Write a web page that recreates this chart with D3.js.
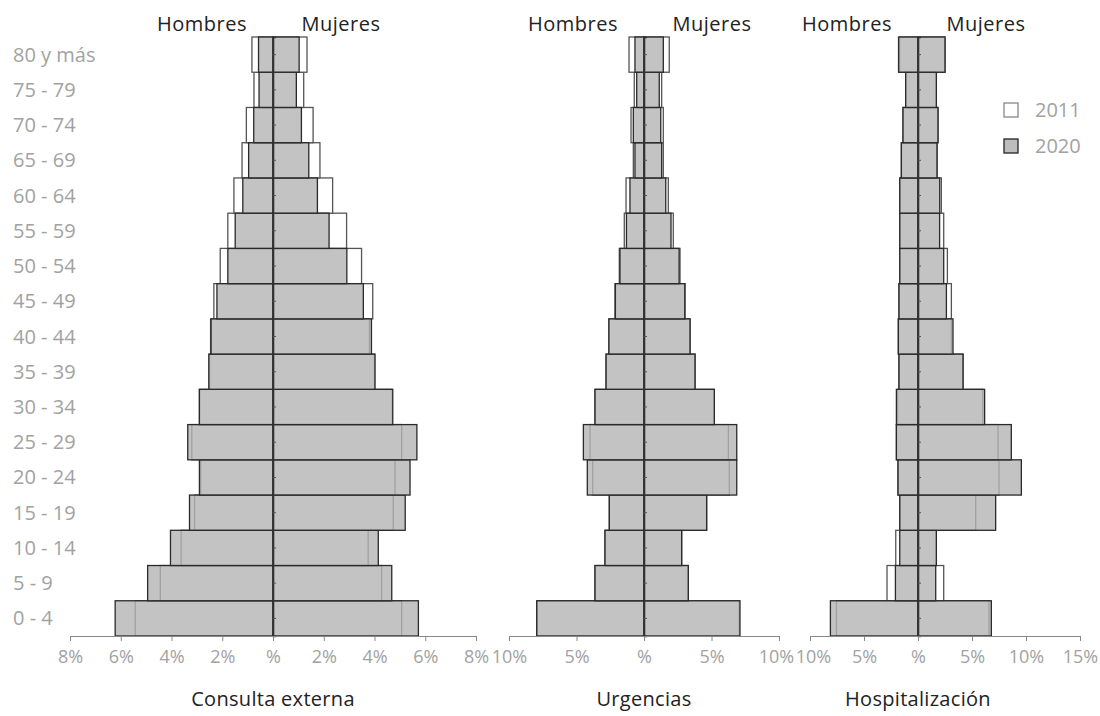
<!DOCTYPE html>
<html>
<head>
<meta charset="utf-8">
<script src="https://cdn.jsdelivr.net/npm/d3@7"></script>
<style>
  body { margin: 0; background: #fff; }
  text { font-family: "Open Sans", "Noto Sans", sans-serif; }
</style>
</head>
<body>
<svg id="chart"></svg>
<script>
var svg = d3.select('#chart').attr('width', 1100).attr('height', 716)

// grupos de edad, de abajo hacia arriba
var ages = ['0 - 4','5 - 9','10 - 14','15 - 19','20 - 24','25 - 29','30 - 34','35 - 39',
            '40 - 44','45 - 49','50 - 54','55 - 59','60 - 64','65 - 69','70 - 74','75 - 79','80 y más']
var years = ['2011', '2020']

// Consulta externa (%)
var consultaH2011 = [5.43,4.44,3.62,3.09,2.85,3.20,2.90,2.50,2.46,2.33,2.08,1.78,1.54,1.22,1.05,0.75,0.83]
var consultaH2020 = [6.22,4.94,4.04,3.29,2.90,3.36,2.90,2.53,2.44,2.21,1.78,1.49,1.19,0.96,0.76,0.55,0.57]
var consultaM2011 = [5.07,4.28,3.75,4.74,4.81,5.07,4.70,4.00,3.80,3.93,3.49,2.90,2.35,1.85,1.58,1.21,1.34]
var consultaM2020 = [5.73,4.68,4.15,5.21,5.40,5.67,4.72,4.02,3.88,3.56,2.91,2.21,1.75,1.41,1.12,0.92,1.03]

// Urgencias (%)
var urgH2011 = [7.90,3.63,2.89,2.57,3.80,4.00,3.63,2.81,2.60,2.15,1.83,1.46,1.33,0.79,0.96,0.72,1.11]
var urgH2020 = [7.95,3.63,2.89,2.57,4.20,4.49,3.63,2.81,2.60,2.12,1.78,1.30,1.04,0.67,0.79,0.54,0.67]
var urgM2011 = [7.05,3.28,2.79,4.64,6.32,6.25,5.21,3.78,3.41,3.04,2.67,2.17,1.80,1.43,1.43,1.31,1.87]
var urgM2020 = [7.11,3.28,2.79,4.64,6.87,6.87,5.21,3.78,3.41,3.02,2.60,2.00,1.61,1.31,1.24,1.13,1.43]

// Hospitalización (%)
var hospH2011 = [7.55,2.87,2.06,1.69,1.85,2.00,1.90,1.76,1.82,1.76,1.69,1.69,1.69,1.54,1.39,1.14,1.70]
var hospH2020 = [8.11,2.09,1.69,1.69,1.85,2.00,2.00,1.76,1.82,1.76,1.69,1.69,1.69,1.54,1.39,1.14,1.80]
var hospM2011 = [6.57,2.38,1.70,5.34,7.50,7.41,6.00,4.17,3.09,3.09,2.72,2.38,2.16,1.76,1.85,1.70,2.50]
var hospM2020 = [6.79,1.64,1.70,7.19,9.57,8.64,6.17,4.17,3.24,2.63,2.38,2.00,2.01,1.76,1.85,1.70,2.50]

var panels = [
  {title: 'Consulta externa', domain: [-8, 8], range: [70, 476], ticks: [-8,-6,-4,-2,0,2,4,6,8],
   h: [consultaH2011, consultaH2020], m: [consultaM2011, consultaM2020]},
  {title: 'Urgencias', domain: [-10, 10], range: [509, 779], ticks: [-10,-5,0,5,10],
   h: [urgH2011, urgH2020], m: [urgM2011, urgM2020]},
  {title: 'Hospitalización', domain: [-10, 15], range: [810, 1080], ticks: [-10,-5,0,5,10,15],
   h: [hospH2011, hospH2020], m: [hospM2011, hospM2020]}
]

var y = d3.scaleBand().domain(ages.slice().reverse()).range([37, 636]).padding(0)
var fmt = d => d === 0 ? '%' : Math.abs(d) + '%'

// etiquetas de edad
svg.append('g').selectAll('text').data(ages).join('text')
    .attr('x', 13)
    .attr('y', d => y(d) + y.bandwidth()/2)
    .attr('dy', '0.35em')
    .attr('font-size', 20)
    .attr('fill', '#a2a2a2')
    .text(d => d)

panels.forEach((p, pi) => {
  var x = d3.scaleLinear().domain(p.domain).range(p.range)
  var g = svg.append('g')
  var x0 = x(0)

  years.forEach((yr, k) => {
    var rows = ages.map((a, i) => ({age: a, h: p.h[k][i], m: p.m[k][i]}))
    var fill = k === 0 ? '#fff' : '#b4b4b4'
    var op = k === 0 ? 1 : 0.8
    var stroke = k === 0 ? '#555' : '#2a2a2a'
    g.append('g').selectAll('rect.h').data(rows).join('rect')
        .attr('x', d => x(-d.h)).attr('width', d => x0 - x(-d.h))
        .attr('y', d => y(d.age)).attr('height', y.bandwidth())
        .attr('fill', fill).attr('fill-opacity', op)
        .attr('stroke', stroke).attr('stroke-width', 1.3)
    g.append('g').selectAll('rect.m').data(rows).join('rect')
        .attr('x', x0).attr('width', d => x(d.m) - x0)
        .attr('y', d => y(d.age)).attr('height', y.bandwidth())
        .attr('fill', fill).attr('fill-opacity', op)
        .attr('stroke', stroke).attr('stroke-width', 1.3)
  })

  // eje central
  var cAxis = g.append('g').attr('transform', 'translate(' + x0 + ',0)')
      .call(d3.axisRight(y).tickSize(3).tickFormat(''))
  cAxis.select('.domain').attr('stroke', '#333').attr('stroke-width', 1.6)
  cAxis.selectAll('.tick line').attr('stroke', '#555')

  // eje inferior
  var bAxis = g.append('g').attr('transform', 'translate(0,636)')
      .call(d3.axisBottom(x).tickValues(p.ticks).tickFormat(fmt).tickSize(5).tickSizeOuter(0))
  bAxis.select('.domain').attr('stroke', '#888')
  bAxis.selectAll('.tick line').attr('stroke', '#888')
  bAxis.selectAll('.tick text').attr('font-size', 18).attr('fill', '#a2a2a2')
      .attr('font-family', '"Open Sans", sans-serif').attr('dy', '1.05em')
      .attr('dx', (d, i) => {
        // los extremos contiguos entre paneles se separan un poco
        if (pi === 1 && i === p.ticks.length - 1) return -3
        if (pi === 2 && i === 0) return 3
        return 0
      })

  g.append('text').attr('x', x0 - 71).attr('y', 31).attr('text-anchor', 'middle')
      .attr('font-size', 20).attr('fill', '#222').attr('letter-spacing', 0.5).text('Hombres')
  g.append('text').attr('x', x0 + 68).attr('y', 31).attr('text-anchor', 'middle')
      .attr('font-size', 20).attr('fill', '#222').attr('letter-spacing', 0.5).text('Mujeres')
  g.append('text').attr('x', x0).attr('y', 706).attr('text-anchor', 'middle')
      .attr('font-size', 20).attr('fill', '#222').attr('letter-spacing', 0.3).text(p.title)
})

// leyenda
var legend = svg.append('g').selectAll('g').data(years).join('g')
    .attr('transform', (d, i) => 'translate(1004,' + (103 + i*36) + ')')
legend.append('rect').attr('width', 14).attr('height', 14)
    .attr('fill', (d, i) => i ? '#bdbdbd' : '#fff')
    .attr('stroke', (d, i) => i ? '#222' : '#888').attr('stroke-width', 1.3)
legend.append('text').attr('x', 31).attr('y', 14)
    .attr('font-size', 20).attr('fill', '#a2a2a2').text(d => d)
</script>
</body>
</html>
